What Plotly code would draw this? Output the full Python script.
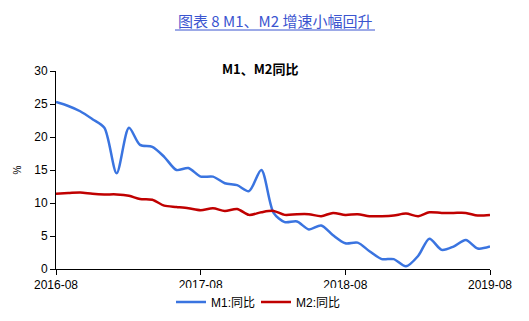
import plotly.graph_objects as go
import pandas as pd

months = pd.date_range("2016-08-01", "2019-08-01", freq="MS").strftime("%Y-%m").tolist()
m1 = [25.3, 24.7, 23.9, 22.7, 21.4, 14.5, 21.4, 18.8, 18.5, 17.0, 15.0, 15.3,
      14.0, 14.0, 13.0, 12.7, 11.8, 15.0, 8.5, 7.1, 7.2, 6.0, 6.6, 5.1,
      3.9, 4.0, 2.7, 1.5, 1.5, 0.4, 2.0, 4.6, 2.9, 3.4, 4.4, 3.1, 3.4]
m2 = [11.4, 11.5, 11.6, 11.4, 11.3, 11.3, 11.1, 10.6, 10.5, 9.6, 9.4, 9.2,
      8.9, 9.2, 8.8, 9.1, 8.2, 8.6, 8.8, 8.2, 8.3, 8.3, 8.0, 8.5,
      8.2, 8.3, 8.0, 8.0, 8.1, 8.4, 8.0, 8.6, 8.5, 8.5, 8.5, 8.1, 8.2]
tick_labels = ["2016-08", "2017-08", "2018-08", "2019-08"]

x = pd.to_datetime(months)
font = "Liberation Sans, Noto Sans CJK SC, sans-serif"

W, H, L, R, T, B = 529, 321, 56, 39, 71, 52
plot_h = H - T - B
plot_w = W - L - R

fig = go.Figure()
fig.add_trace(go.Scatter(x=x, y=m1, mode="lines", name="M1:同比",
                         line=dict(color="#3a74e0", width=2.5, shape="spline", smoothing=0.8)))
fig.add_trace(go.Scatter(x=x, y=m2, mode="lines", name="M2:同比",
                         line=dict(color="#c00000", width=2.5, shape="spline", smoothing=0.8)))

fig.update_layout(
    width=W, height=H,
    margin=dict(l=L, r=R, t=T, b=B, autoexpand=False),
    paper_bgcolor="white", plot_bgcolor="white",
    font=dict(family=font, size=12, color="black"),
    showlegend=True,
    legend=dict(orientation="h", x=(256 - L) / plot_w, xanchor="center",
                y=-(302 - 269) / plot_h, yanchor="middle",
                font=dict(size=12), itemwidth=30, entrywidth=40, entrywidthmode="pixels",
                tracegroupgap=0),
    xaxis=dict(range=[x[0], x[-1]], tickvals=pd.to_datetime(tick_labels), ticktext=tick_labels,
               showgrid=False, showline=True, linecolor="black", linewidth=1,
               ticks="outside", ticklen=5, tickcolor="black", zeroline=False, automargin=False),
    yaxis=dict(range=[0, 30], dtick=5, showgrid=False, showline=True, linecolor="black",
               linewidth=1, ticks="outside", ticklen=5, tickcolor="black", zeroline=False,
               automargin=False,
               title=dict(text="%", font=dict(size=10), standoff=10)),
    annotations=[
        dict(text="图表 8 M1、M2 增速小幅回升", x=(275 - L) / plot_w, xref="paper",
             y=1 + (T - 20) / plot_h, yref="paper", yanchor="middle",
             showarrow=False, font=dict(size=15, color="#3b55d0", family="Noto Sans CJK SC")),
        dict(text="<b>M1、M2同比</b>", x=(260 - L) / plot_w, xref="paper",
             y=1 + (T - 68) / plot_h, yref="paper", yanchor="middle",
             showarrow=False, font=dict(size=13, family="Noto Sans CJK SC")),
    ],
)
fig.add_shape(type="line", xref="paper", yref="paper",
              x0=(175 - L) / plot_w, x1=(375 - L) / plot_w,
              y0=1 + (T - 30) / plot_h, y1=1 + (T - 30) / plot_h,
              line=dict(color="#3b55d0", width=1))

fig.write_html("out.html")
